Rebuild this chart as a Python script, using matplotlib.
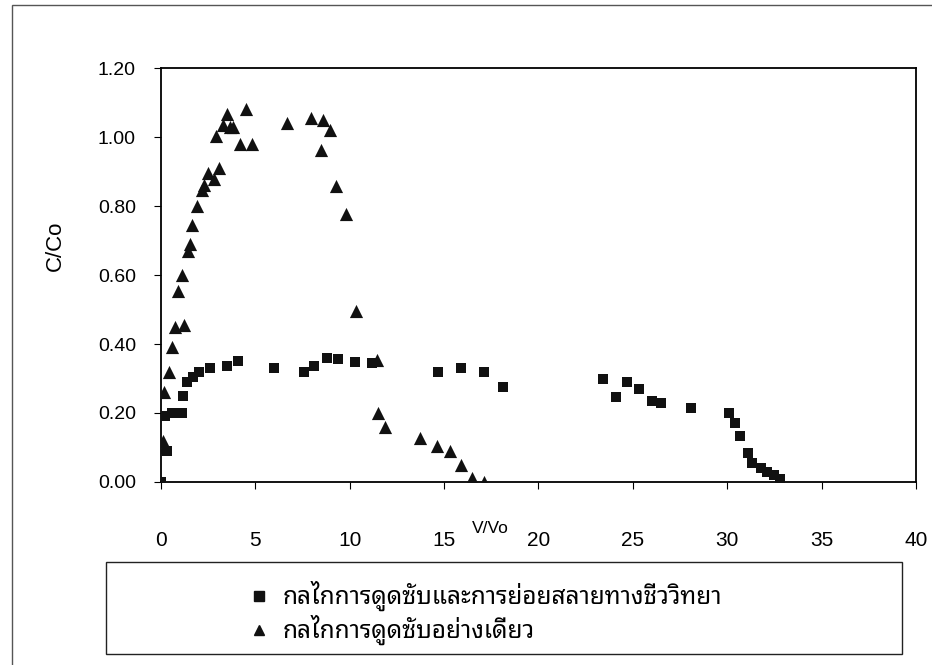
import matplotlib
matplotlib.use("Agg")
import matplotlib.pyplot as plt

# series 1: adsorption + biodegradation (squares)
v_bio = [0.0, 0.3, 0.2, 0.6, 1.1, 1.15, 1.4, 1.7, 2.0, 2.6, 3.5, 4.1, 6.0, 7.6, 8.1,
         8.8, 9.4, 10.3, 11.2, 14.7, 15.9, 17.1, 18.1, 23.4, 24.1, 24.7, 25.3, 26.0,
         26.5, 28.1, 30.1, 30.4, 30.7, 31.1, 31.3, 31.8, 32.1, 32.5, 32.8]
c_bio = [0.00, 0.09, 0.19, 0.20, 0.20, 0.25, 0.29, 0.305, 0.32, 0.33, 0.335, 0.35, 0.33,
         0.32, 0.337, 0.36, 0.357, 0.348, 0.345, 0.32, 0.33, 0.32, 0.275, 0.30, 0.245,
         0.29, 0.27, 0.235, 0.23, 0.214, 0.20, 0.17, 0.134, 0.084, 0.055, 0.04, 0.03,
         0.02, 0.01]

# series 2: adsorption only (triangles)
v_ads = [0.0, 0.1, 0.2, 0.16, 0.45, 0.58, 0.74, 1.2, 0.9, 1.1, 1.42, 1.53, 1.64, 1.9,
         2.17, 2.3, 2.5, 2.8, 3.1, 2.9, 3.3, 3.5, 3.65, 3.8, 4.2, 4.5, 4.8, 6.7, 7.97,
         8.58, 8.94, 8.5, 9.26, 9.8, 10.35, 11.45, 11.5, 11.85, 13.75, 14.65, 15.3,
         15.9, 16.5, 17.1]
c_ads = [0.0, 0.12, 0.10, 0.26, 0.32, 0.39, 0.45, 0.455, 0.555, 0.60, 0.67, 0.69, 0.745,
         0.80, 0.846, 0.86, 0.895, 0.878, 0.91, 1.003, 1.035, 1.067, 1.03, 1.03, 0.98,
         1.08, 0.98, 1.04, 1.055, 1.05, 1.02, 0.962, 0.858, 0.777, 0.496, 0.354, 0.2,
         0.16, 0.127, 0.104, 0.09, 0.05, 0.012, 0.0]

labels = ["กลไกการดูดซับและการย่อยสลายทางชีววิทยา", "กลไกการดูดซับอย่างเดียว"]
x_ticks = [0, 5, 10, 15, 20, 25, 30, 35, 40]
y_ticks = [0.0, 0.2, 0.4, 0.6, 0.8, 1.0, 1.2]

plt.rcParams['font.family'] = ['Liberation Sans', 'DejaVu Sans']
thai_family = ['Noto Sans Thai Looped', 'Sarabun', 'DejaVu Sans']

fig = plt.figure(figsize=(9.32, 6.65), dpi=100)
ax = fig.add_axes([0.1727, 0.2752, 0.8101, 0.6225])

ax.scatter(v_bio, c_bio, marker='s', s=60, color='#111111', linewidths=0, zorder=3)
ax.scatter(v_ads, c_ads, marker='^', s=90, color='#111111', linewidths=0, zorder=3)

ax.set_xlim(0, 40)
ax.set_ylim(0, 1.2)
ax.set_xticks(x_ticks)
ax.set_yticks(y_ticks)
ax.set_yticklabels(['%.2f' % t for t in y_ticks], fontsize=14)
ax.set_xticklabels([str(t) for t in x_ticks], fontsize=15)
ax.tick_params(axis='x', direction='out', length=5, pad=30)
ax.tick_params(axis='y', direction='out', length=5, pad=13)
for s in ax.spines.values():
    s.set_linewidth(1.3)
ax.set_ylabel('C/Co', fontsize=16)
ax.yaxis.set_label_coords(-0.126, 0.57)
ax.text(0.436, -0.112, 'V/Vo', transform=ax.transAxes, fontsize=12.5,
        ha='center', va='center')

# legend box under the chart
fig.patches.append(plt.Rectangle((106 / 932, 1 - 654 / 665), 796 / 932, 92 / 665,
                                 transform=fig.transFigure, fill=False,
                                 edgecolor='#222222', linewidth=1.0))
row_y = [596, 630]
row_marker = ['s', '^']
for lab, yy, mk in zip(labels, row_y, row_marker):
    fig.text(283 / 932, 1 - yy / 665, lab, family=thai_family, fontsize=17.5,
             va='center')
    fig.lines.append(plt.Line2D([259 / 932], [1 - yy / 665], marker=mk, ms=7,
                                color='#111111', ls='', transform=fig.transFigure))

# outer frame of the chart area
fig.patches.append(plt.Rectangle((12 / 932, -0.01), 1.0, 1 - 5 / 665 + 0.01,
                                 transform=fig.transFigure, fill=False,
                                 edgecolor='#555555', linewidth=1.0))

fig.savefig('out.png', dpi=100)
